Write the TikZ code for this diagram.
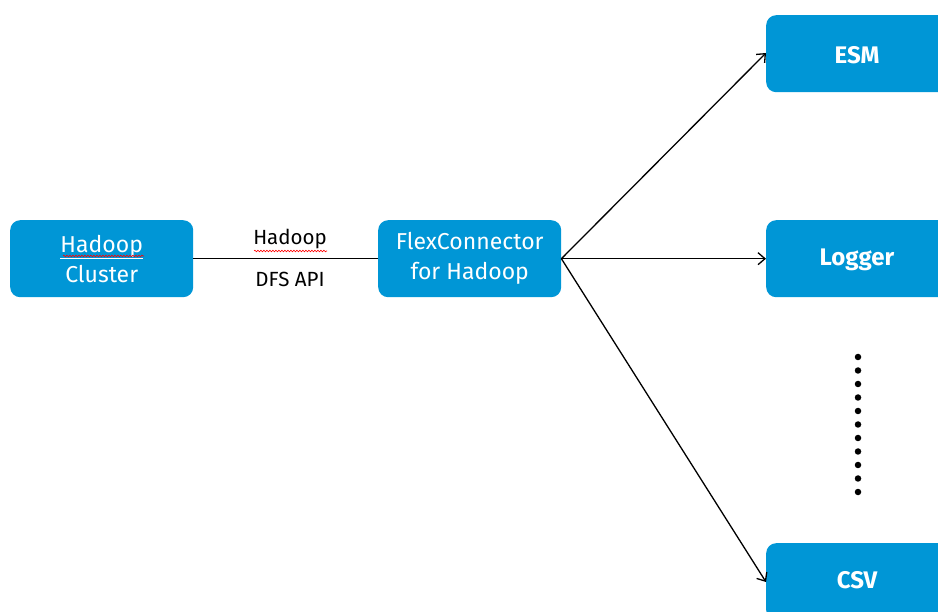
\documentclass[tikz,border=0pt]{standalone}
\usepackage{fontspec}
\setmainfont{Fira Sans}
\usetikzlibrary{arrows.meta,decorations.pathmorphing}
\definecolor{hpblue}{HTML}{0096D6}
\tikzset{
  box/.style={fill=hpblue, rounded corners=10pt, minimum width=183pt, minimum height=77pt, inner sep=0pt, text=white, font=\fontsize{23}{30}\selectfont, align=center},
  bigtext/.style={text=white, inner sep=0pt, font=\fontsize{24}{29}\selectfont\bfseries},
  conn/.style={draw=black, line width=1.3pt},
  arr/.style={conn, -{Straight Barb[length=7pt, width=12pt, line width=1.3pt]}},
  lbl/.style={font=\fontsize{20.5}{24}\selectfont, text=black, inner sep=0pt},
  dotm/.style={circle, fill=black, inner sep=0pt, minimum size=6.5pt},
  spell/.style={draw=red, line width=0.6pt, decorate, decoration={snake, amplitude=0.8pt, segment length=3pt}}
}
\begin{document}
\begin{tikzpicture}[x=1pt, y=-1pt]
\useasboundingbox (0,0) rectangle (938,612);
\clip (0,0) rectangle (938,612);
\node[box, anchor=north west] (hc) at (10,220) {\underline{Hadoop}\\Cluster};
\node[box, anchor=north west] (fc) at (378,220) {FlexConnector\\for Hadoop};
\node[box, anchor=north west] (esm) at (766,15) {};
\node[box, anchor=north west] (log) at (766,220) {};
\node[box, anchor=north west] (csv) at (766,543) {};
\node[bigtext] (esmt) at (857,55) {ESM};
\node[bigtext] (logt) at (857,260) {Logger};
\node[bigtext] (csvt) at (857,580) {CSV};
\node[lbl] (l1) at (290,239) {Hadoop};
\node[lbl] (l2) at (290,279) {DFS API};
\draw[spell] (63,256) -- (144,256);
\draw[spell] (254,251) -- (327,251);
\draw[conn] (hc.east) -- (fc.west);
\draw[arr] (fc.east) -- (esm.west |- 0,53);
\draw[arr] (fc.east) -- (log.west);
\draw[arr] (fc.east) -- (csv.west |- 0,582);
\foreach \i in {0,...,10} {
  \node[dotm] (d\i) at (858,{357+13.5*\i}) {};
}
\end{tikzpicture}
\end{document}
